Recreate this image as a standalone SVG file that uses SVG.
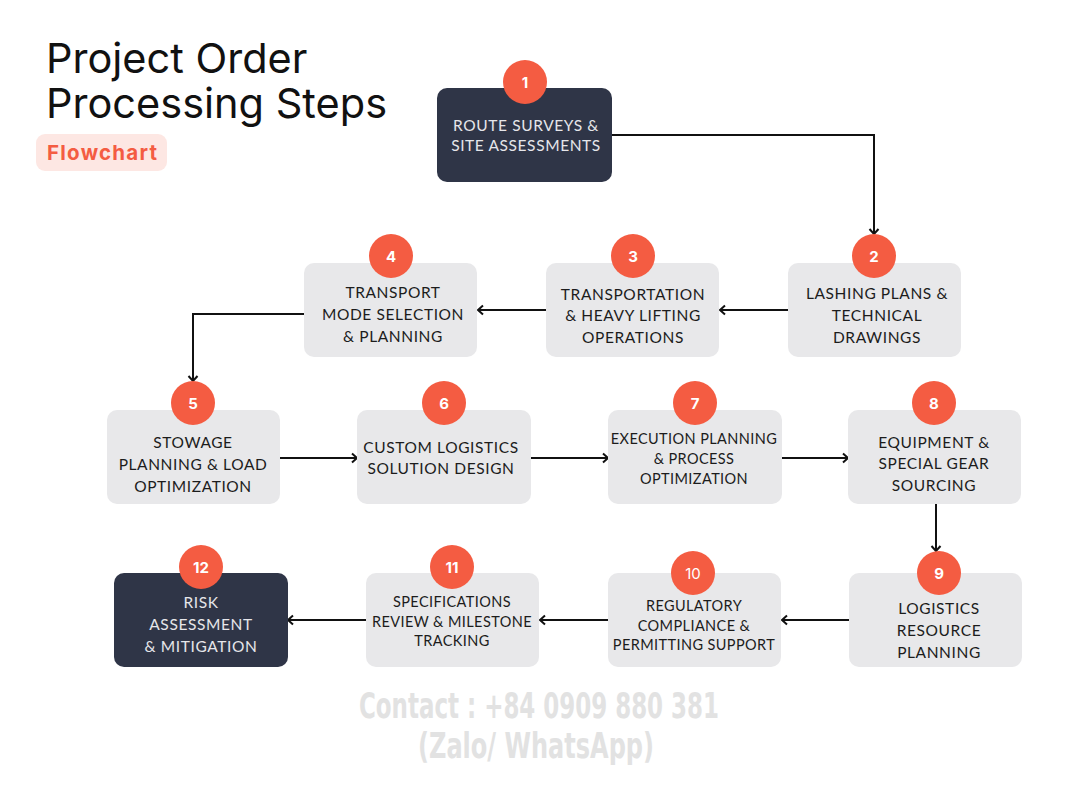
<svg xmlns="http://www.w3.org/2000/svg" width="1067" height="800" viewBox="0 0 1067 800">
<defs>
<style>
.box{fill:#e8e8ea}
.dark{fill:#2f3547}
.badge{fill:#f45c42}
.num{font-family:"Inter","Liberation Sans",sans-serif;font-weight:700;font-size:15px;fill:#ffffff;text-anchor:middle}
.t{font-family:"Lato","Noto Sans",sans-serif;font-size:15.5px;fill:#1c1c1c;text-anchor:middle;letter-spacing:0.6px}
.ts{font-family:"Lato","Noto Sans",sans-serif;font-size:14.5px;fill:#1c1c1c;text-anchor:middle;letter-spacing:0.4px}
.tw{fill:#e6e6ea}
.conn{fill:none;stroke:#111111;stroke-width:2;marker-end:url(#arr)}
</style>
<marker id="arr" viewBox="-7 -6 9 12" refX="0" refY="0" markerWidth="9" markerHeight="12" markerUnits="userSpaceOnUse" orient="auto">
<path d="M-5,-4.5 L0,0 L-5,4.5" fill="none" stroke="#111111" stroke-width="2"/>
</marker>
</defs>
<rect width="1067" height="800" fill="#ffffff"/>

<g id="title">
<text font-family="Inter, 'Liberation Sans', sans-serif" font-size="41.5" fill="#111111"><tspan x="46" y="73">Project Order</tspan><tspan x="46" y="118">Processing Steps</tspan></text>
<rect x="36" y="134" width="131" height="37" rx="9" fill="#fde7e3"/>
<text x="47" y="160" font-family="Inter, 'Liberation Sans', sans-serif" font-size="20.5" font-weight="700" fill="#f45c42" textLength="110" lengthAdjust="spacing">Flowchart</text>
</g>

<g id="connectors">
<path class="conn" d="M612,135 H874 V234"/>
<path class="conn" d="M788,310 H720"/>
<path class="conn" d="M546,310 H478"/>
<path class="conn" d="M304,314 H193 V381"/>
<path class="conn" d="M280,458 H357"/>
<path class="conn" d="M531,458 H608"/>
<path class="conn" d="M782,458 H848"/>
<path class="conn" d="M936,504 V551"/>
<path class="conn" d="M852,620 H782"/>
<path class="conn" d="M608,620 H540"/>
<path class="conn" d="M366,620 H288"/>
</g>

<g id="node1">
<rect class="dark" x="437" y="88" width="175" height="94" rx="10"/>
<text class="t tw" x="526" y="130.5">ROUTE SURVEYS &amp;</text>
<text class="t tw" x="526" y="150.5">SITE ASSESSMENTS</text>
<circle class="badge" cx="525" cy="82" r="22"/>
<text class="num" x="525" y="87.5">1</text>
</g>

<g id="node2">
<rect class="box" x="788" y="263" width="173" height="94" rx="10"/>
<text class="t" x="877" y="298.5">LASHING PLANS &amp;</text>
<text class="t" x="877" y="320.5">TECHNICAL</text>
<text class="t" x="877" y="342.5">DRAWINGS</text>
<circle class="badge" cx="874" cy="256" r="22"/>
<text class="num" x="874" y="261.5">2</text>
</g>

<g id="node3">
<rect class="box" x="546" y="263" width="173" height="94" rx="10"/>
<text class="t" x="633" y="299.5">TRANSPORTATION</text>
<text class="t" x="633" y="320.5">&amp; HEAVY LIFTING</text>
<text class="t" x="633" y="342.5">OPERATIONS</text>
<circle class="badge" cx="633" cy="256" r="22"/>
<text class="num" x="633" y="261.5">3</text>
</g>

<g id="node4">
<rect class="box" x="304" y="263" width="173" height="94" rx="10"/>
<text class="t" x="393" y="297.5">TRANSPORT</text>
<text class="t" x="393" y="319.5">MODE SELECTION</text>
<text class="t" x="393" y="341.5">&amp; PLANNING</text>
<circle class="badge" cx="391" cy="256" r="22"/>
<text class="num" x="391" y="261.5">4</text>
</g>

<g id="node5">
<rect class="box" x="107" y="410" width="173" height="94" rx="10"/>
<text class="t" x="193" y="447.5">STOWAGE</text>
<text class="t" x="193" y="469.5">PLANNING &amp; LOAD</text>
<text class="t" x="193" y="491.5">OPTIMIZATION</text>
<circle class="badge" cx="193" cy="403" r="22"/>
<text class="num" x="193" y="408.5">5</text>
</g>

<g id="node6">
<rect class="box" x="357" y="410" width="174" height="94" rx="10"/>
<text class="t" x="441" y="452.5">CUSTOM LOGISTICS</text>
<text class="t" x="441" y="473.5">SOLUTION DESIGN</text>
<circle class="badge" cx="444" cy="403" r="22"/>
<text class="num" x="444" y="408.5">6</text>
</g>

<g id="node7">
<rect class="box" x="608" y="410" width="174" height="94" rx="10"/>
<text class="ts" x="694" y="444">EXECUTION PLANNING</text>
<text class="ts" x="694" y="464">&amp; PROCESS</text>
<text class="ts" x="694" y="484">OPTIMIZATION</text>
<circle class="badge" cx="695" cy="403" r="22"/>
<text class="num" x="695" y="408.5">7</text>
</g>

<g id="node8">
<rect class="box" x="848" y="410" width="173" height="94" rx="10"/>
<text class="t" x="934" y="447.5">EQUIPMENT &amp;</text>
<text class="t" x="934" y="468.5">SPECIAL GEAR</text>
<text class="t" x="934" y="490.5">SOURCING</text>
<circle class="badge" cx="934" cy="403" r="22"/>
<text class="num" x="934" y="408.5">8</text>
</g>

<g id="node9">
<rect class="box" x="849" y="573" width="173" height="94" rx="10"/>
<text class="t" x="939" y="613.5">LOGISTICS</text>
<text class="t" x="939" y="635.5">RESOURCE</text>
<text class="t" x="939" y="657.5">PLANNING</text>
<circle class="badge" cx="939" cy="573" r="22"/>
<text class="num" x="939" y="578.5">9</text>
</g>

<g id="node10">
<rect class="box" x="608" y="573" width="173" height="94" rx="10"/>
<text class="ts" x="694" y="611">REGULATORY</text>
<text class="ts" x="694" y="631">COMPLIANCE &amp;</text>
<text class="ts" x="694" y="650">PERMITTING SUPPORT</text>
<circle class="badge" cx="693" cy="573" r="22"/>
<text class="num" x="693" y="578.5" style="font-weight:400">10</text>
</g>

<g id="node11">
<rect class="box" x="366" y="573" width="173" height="94" rx="10"/>
<text class="ts" x="452" y="607">SPECIFICATIONS</text>
<text class="ts" x="452" y="627">REVIEW &amp; MILESTONE</text>
<text class="ts" x="452" y="646">TRACKING</text>
<circle class="badge" cx="452" cy="567" r="22"/>
<text class="num" x="452" y="572.5">11</text>
</g>

<g id="node12">
<rect class="dark" x="114" y="573" width="174" height="94" rx="10"/>
<text class="t tw" x="201" y="607.5">RISK</text>
<text class="t tw" x="201" y="629.5">ASSESSMENT</text>
<text class="t tw" x="201" y="651.5">&amp; MITIGATION</text>
<circle class="badge" cx="201" cy="567" r="22"/>
<text class="num" x="201" y="572.5">12</text>
</g>

<g id="watermark" font-family="'DejaVu Sans', sans-serif" font-weight="700" fill="#e2e2e2" text-anchor="middle">
<text x="539" y="718" font-size="35" textLength="360" lengthAdjust="spacingAndGlyphs">Contact : +84 0909 880 381</text>
<text x="536" y="758" font-size="35" textLength="236" lengthAdjust="spacingAndGlyphs">(Zalo/ WhatsApp)</text>
</g>
</svg>
